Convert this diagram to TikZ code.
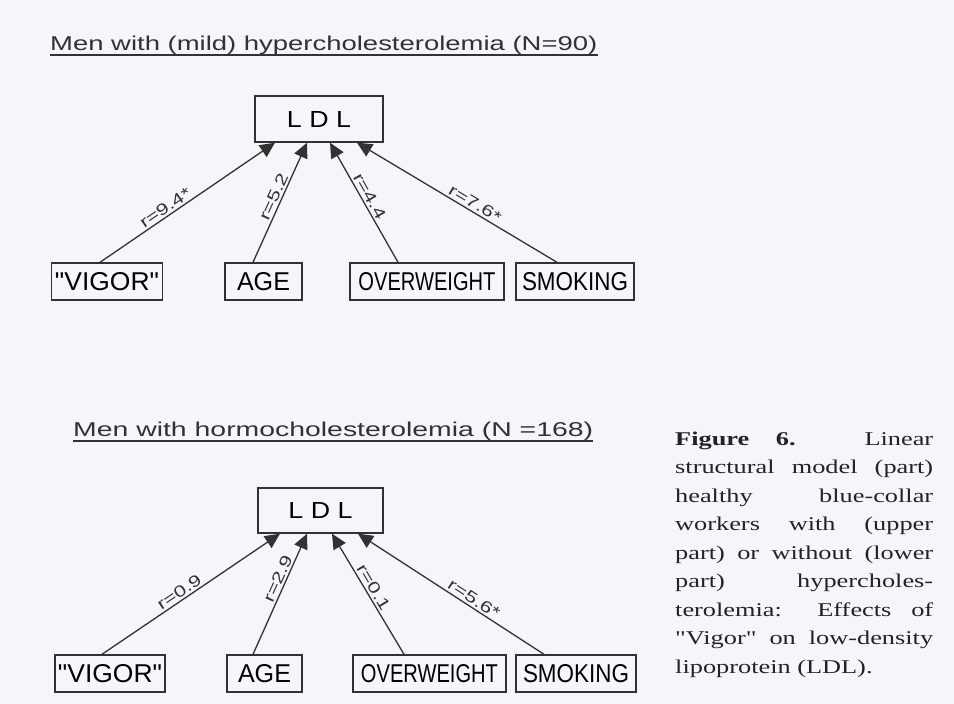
\documentclass[tikz,border=0pt]{standalone}
\usepackage{fontspec}
\usepackage{graphicx}
\usetikzlibrary{arrows.meta}
\newfontfamily\diafont{Liberation Sans}
\newfontfamily\labfont{Liberation Sans}[FakeStretch=1.35]
\newfontfamily\capfont{Liberation Serif}[FakeStretch=1.35]
\definecolor{bg}{RGB}{245,246,250}
\definecolor{ink}{RGB}{50,50,50}
\definecolor{capink}{RGB}{35,35,35}
\newcommand{\fitbox}[3]{\resizebox{#1}{#2}{\diafont #3}}
\tikzset{
  box/.style={draw=ink, line width=1.4pt, inner sep=0pt, minimum height=37pt},
  ldlbox/.style={box, minimum height=46pt},
  arr/.style={draw=ink, line width=1.3pt, -{Triangle[length=15pt,width=14pt]}},
  lab/.style={sloped, above, inner sep=2pt, font=\labfont\fontsize{16}{16}\selectfont, text=ink},
  uline/.style={draw=ink, line width=1.2pt},
  title/.style={anchor=base west, inner sep=0pt, text=ink}
}
\begin{document}
\begin{tikzpicture}[x=1pt,y=-1pt]
\fill[bg] (0,0) rectangle (954,704);
\useasboundingbox (0,0) rectangle (954,704);

% ---------- upper part ----------
\node[title] (t1) at (50,50) {\fitbox{547pt}{14.5pt}{Men with (mild) hypercholesterolemia (N=90)}};
\draw[uline] ([yshift=-5pt]t1.base west) -- ([yshift=-5pt]t1.base east);

\node[ldlbox, minimum width=128pt] (ldlA) at (319,119) {\fitbox{64pt}{16pt}{L D L}};
\node[box, minimum width=111pt] (vigA) at (107,281.5) {\fitbox{104pt}{18pt}{"VIGOR"}};
\node[box, minimum width=77pt]  (ageA) at (263.5,281.5) {\fitbox{53pt}{18pt}{AGE}};
\node[box, minimum width=154pt] (owA)  at (427,281.5) {\fitbox{137pt}{18pt}{OVERWEIGHT}};
\node[box, minimum width=118pt] (smA)  at (575,281.5) {\fitbox{106pt}{18pt}{SMOKING}};

\draw[arr] ([xshift=-7pt]vigA.north) -- ([xshift=-44pt]ldlA.south) node[lab,pos=0.40]{r=9.4*};
\draw[arr] ([xshift=-10.5pt]ageA.north) -- ([xshift=-12pt]ldlA.south) node[lab,pos=0.52]{r=5.2};
\draw[arr] ([xshift=-29pt]owA.north) -- ([xshift=11pt]ldlA.south) node[lab,pos=0.52]{r=4.4};
\draw[arr] ([xshift=-18pt]smA.north) -- ([xshift=38pt]ldlA.south) node[lab,pos=0.43]{r=7.6*};

% ---------- lower part ----------
\node[title] (t2) at (73,436) {\fitbox{520pt}{14.5pt}{Men with hormocholesterolemia (N =168)}};
\draw[uline] ([yshift=-5pt]t2.base west) -- ([yshift=-5pt]t2.base east);

\node[ldlbox, minimum width=125pt, minimum height=45pt] (ldlB) at (320.5,510.5) {\fitbox{64pt}{16pt}{L D L}};
\node[box, minimum width=110pt] (vigB) at (110,673.5) {\fitbox{104pt}{18pt}{"VIGOR"}};
\node[box, minimum width=75pt]  (ageB) at (264.5,673.5) {\fitbox{53pt}{18pt}{AGE}};
\node[box, minimum width=153pt] (owB)  at (429.5,673.5) {\fitbox{137pt}{18pt}{OVERWEIGHT}};
\node[box, minimum width=120pt] (smB)  at (576,673.5) {\fitbox{106pt}{18pt}{SMOKING}};

\draw[arr] ([xshift=-8pt]vigB.north) -- ([xshift=-40.5pt]ldlB.south) node[lab,pos=0.46]{r=0.9};
\draw[arr] ([xshift=-11.5pt]ageB.north) -- ([xshift=-13.5pt]ldlB.south) node[lab,pos=0.60]{r=2.9};
\draw[arr] ([xshift=-25.5pt]owB.north) -- ([xshift=11.5pt]ldlB.south) node[lab,pos=0.52]{r=0.1};
\draw[arr] ([xshift=-32pt]smB.north) -- ([xshift=37.5pt]ldlB.south) node[lab,pos=0.40]{r=5.6*};

% ---------- caption ----------
\node[anchor=base west, inner sep=0pt, text=capink] (cap) at (675,445) {\parbox[t]{258pt}{\capfont\fontsize{19.5}{28.5}\selectfont
\makebox[258pt][s]{\textbf{Figure 6.} Linear}\\
\makebox[258pt][s]{structural model (part)}\\
\makebox[258pt][s]{healthy blue-collar}\\
\makebox[258pt][s]{workers with (upper}\\
\makebox[258pt][s]{part) or without (lower}\\
\makebox[258pt][s]{part) hypercholes-}\\
\makebox[258pt][s]{terolemia: Effects of}\\
\makebox[258pt][s]{"Vigor" on low-density}\\
lipoprotein (LDL).}};
\end{tikzpicture}
\end{document}
